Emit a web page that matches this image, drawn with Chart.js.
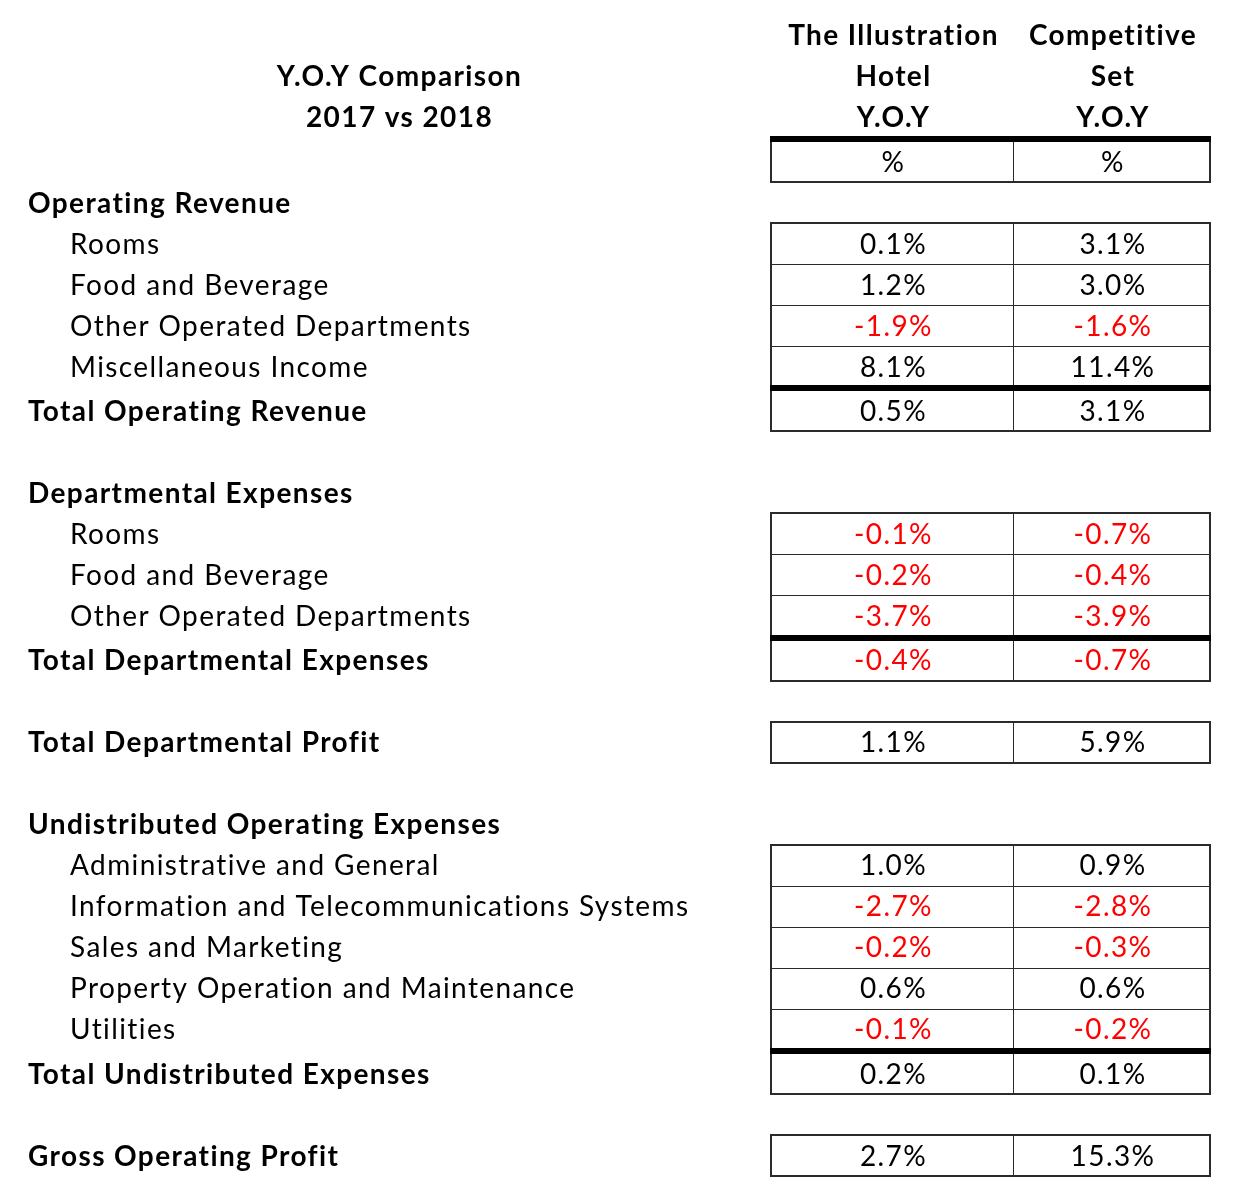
<!DOCTYPE html>
<html>
<head>
<meta charset="utf-8">
<script src="https://cdn.jsdelivr.net/npm/chart.js@4.4.1/dist/chart.umd.min.js"></script>
<style>
  html, body { margin: 0; padding: 0; background: #fff; }
  #wrap { width: 1234px; height: 1198px; position: relative; }
</style>
</head>
<body>
<div id="wrap"><canvas id="yoyTable"></canvas></div>
<script>
// table text
const tableTitle = ['Y.O.Y Comparison', '2017 vs 2018'];
const hotelHeader = ['The Illustration', 'Hotel', 'Y.O.Y'];
const compSetHeader = ['Competitive', 'Set', 'Y.O.Y'];
const unitLabel = '%';

const rowLabels = [
  'Operating Revenue', 'Rooms', 'Food and Beverage', 'Other Operated Departments', 'Miscellaneous Income', 'Total Operating Revenue',
  '',
  'Departmental Expenses', 'Rooms', 'Food and Beverage', 'Other Operated Departments', 'Total Departmental Expenses',
  '',
  'Total Departmental Profit',
  '',
  'Undistributed Operating Expenses', 'Administrative and General', 'Information and Telecommunications Systems',
  'Sales and Marketing', 'Property Operation and Maintenance', 'Utilities', 'Total Undistributed Expenses',
  '',
  'Gross Operating Profit'
];
const rowKinds = [
  'section', 'item', 'item', 'item', 'item', 'total',
  'blank',
  'section', 'item', 'item', 'item', 'total',
  'blank',
  'result',
  'blank',
  'section', 'item', 'item', 'item', 'item', 'item', 'total',
  'blank',
  'result'
];
// Y.O.Y change in %
const hotelYoy = [null, 0.1, 1.2, -1.9, 8.1, 0.5, null, null, -0.1, -0.2, -3.7, -0.4, null, 1.1, null, null, 1.0, -2.7, -0.2, 0.6, -0.1, 0.2, null, 2.7];
const compSetYoy = [null, 3.1, 3.0, -1.6, 11.4, 3.1, null, null, -0.7, -0.4, -3.9, -0.7, null, 5.9, null, null, 0.9, -2.8, -0.3, 0.6, -0.2, 0.1, null, 15.3];

// layout
const W = 1234, H = 1198;
const ROW_PX = 41;        // one row of the sheet
const FIRST_ROW_PX = 35;  // centre of first header line
const RULE_GAP = 0.085;   // the thick rule pushes the next row down a bit
const X = { section: 28, item: 70, title: 398, hotel: [771, 1013], comp: [1013, 1210] };
const FONT = '28px Lato, "Noto Sans", sans-serif';
const SPACING = '1.4px';  // Calibri-ish spread
const NUDGE = { x: 1.5, y: 1 };  // letterSpacing leaves a trailing gap
const BORDER = '#2b2b2b';

const unitPos = hotelHeader.length + RULE_GAP;
const rowPos = [];
let pos = unitPos + 1;
rowKinds.forEach(kind => {
  if (kind === 'total') pos += RULE_GAP;
  rowPos.push(pos);
  pos += 1;
});

const mid = r => (r[0] + r[1]) / 2;

function cellPoints(values, xCol) {
  const pts = [];
  values.forEach((v, i) => {
    if (v !== null) pts.push({ x: mid(xCol), y: rowPos[i], v: v });
  });
  return pts;
}

const fmt = v => v.toFixed(1) + '%';

const tablePlugin = {
  id: 'tablePlugin',
  afterDatasetsDraw(chart) {
    const ctx = chart.ctx;
    const xs = chart.scales.x, ys = chart.scales.y;
    const px = v => xs.getPixelForValue(v);
    const py = v => ys.getPixelForValue(v);
    const left = px(X.hotel[0]), midX = px(X.hotel[1]), right = px(X.comp[1]);
    const centered = (t, x, y) => ctx.fillText(t, x + NUDGE.x, y + NUDGE.y);

    ctx.save();
    ctx.textBaseline = 'middle';
    ctx.fillStyle = '#000';
    ctx.letterSpacing = SPACING;

    // headers
    ctx.font = 'bold ' + FONT;
    ctx.textAlign = 'center';
    tableTitle.forEach((t, i) => centered(t, px(X.title), py(i + 1)));
    hotelHeader.forEach((t, i) => centered(t, px(mid(X.hotel)), py(i)));
    compSetHeader.forEach((t, i) => centered(t, px(mid(X.comp)), py(i)));

    // cell blocks
    const hasVal = i => hotelYoy[i] !== null;
    const blocks = [{ rows: [unitPos] }];
    let cur = null;
    rowKinds.forEach((k, i) => {
      if (hasVal(i)) {
        if (!cur) { cur = { rows: [] }; blocks.push(cur); }
        cur.rows.push(rowPos[i]);
      } else cur = null;
    });

    blocks.forEach(b => {
      const top = Math.round(py(b.rows[0] - 0.5));
      const bottom = Math.round(py(b.rows[b.rows.length - 1] + 0.5));
      ctx.strokeStyle = BORDER;
      ctx.lineWidth = 1;
      for (let k = 1; k < b.rows.length; k++) {
        const y = Math.round(py(b.rows[k] - 0.5)) + 0.5;
        ctx.beginPath(); ctx.moveTo(left, y); ctx.lineTo(right, y); ctx.stroke();
      }
      ctx.beginPath(); ctx.moveTo(Math.round(midX) + 0.5, top); ctx.lineTo(Math.round(midX) + 0.5, bottom); ctx.stroke();
      ctx.lineWidth = 2;
      ctx.strokeRect(Math.round(left), top, Math.round(right - left), bottom - top);
    });

    // thick rules: under the column header and above each total
    ctx.fillStyle = '#000';
    const rule = (a, b) => {
      const y0 = py(a) - 1.5, y1 = py(b) + 1.5;
      ctx.fillRect(left - 1, Math.round(y0), right - left + 2, Math.round(y1 - y0));
    };
    rule(hotelHeader.length - 0.5, unitPos - 0.5);
    rowKinds.forEach((k, i) => {
      if (k === 'total') rule(rowPos[i - 1] + 0.5, rowPos[i] - 0.5);
    });

    // unit row
    ctx.font = FONT;
    ctx.textAlign = 'center';
    ctx.fillStyle = '#000';
    centered(unitLabel, px(mid(X.hotel)), py(unitPos));
    centered(unitLabel, px(mid(X.comp)), py(unitPos));

    // row labels
    ctx.textAlign = 'left';
    rowLabels.forEach((t, i) => {
      const kind = rowKinds[i];
      if (kind === 'blank') return;
      const bold = kind !== 'item';
      ctx.font = (bold ? 'bold ' : '') + FONT;
      ctx.fillText(t, px(bold ? X.section : X.item), py(rowPos[i]) + NUDGE.y);
    });

    // values, placed on the dataset points
    ctx.font = FONT;
    ctx.textAlign = 'center';
    chart.data.datasets.forEach((ds, d) => {
      chart.getDatasetMeta(d).data.forEach((pt, j) => {
        const v = ds.data[j].v;
        ctx.fillStyle = v < 0 ? '#ff0000' : '#000';
        centered(fmt(v), pt.x, pt.y);
      });
    });
    ctx.restore();
  }
};

new Chart(document.getElementById('yoyTable').getContext('2d'), {
  type: 'scatter',
  data: {
    datasets: [
      { label: 'The Illustration Hotel', data: cellPoints(hotelYoy, X.hotel), pointRadius: 0 },
      { label: 'Competitive Set', data: cellPoints(compSetYoy, X.comp), pointRadius: 0 }
    ]
  },
  options: {
    responsive: true,
    maintainAspectRatio: false,
    animation: false,
    layout: { padding: 0 },
    plugins: { legend: { display: false }, tooltip: { enabled: false } },
    scales: {
      x: { type: 'linear', min: 0, max: W, display: false },
      y: {
        type: 'linear',
        reverse: true,
        min: -FIRST_ROW_PX / ROW_PX,
        max: (H - FIRST_ROW_PX) / ROW_PX,
        display: false
      }
    }
  },
  plugins: [tablePlugin]
});
</script>
</body>
</html>
